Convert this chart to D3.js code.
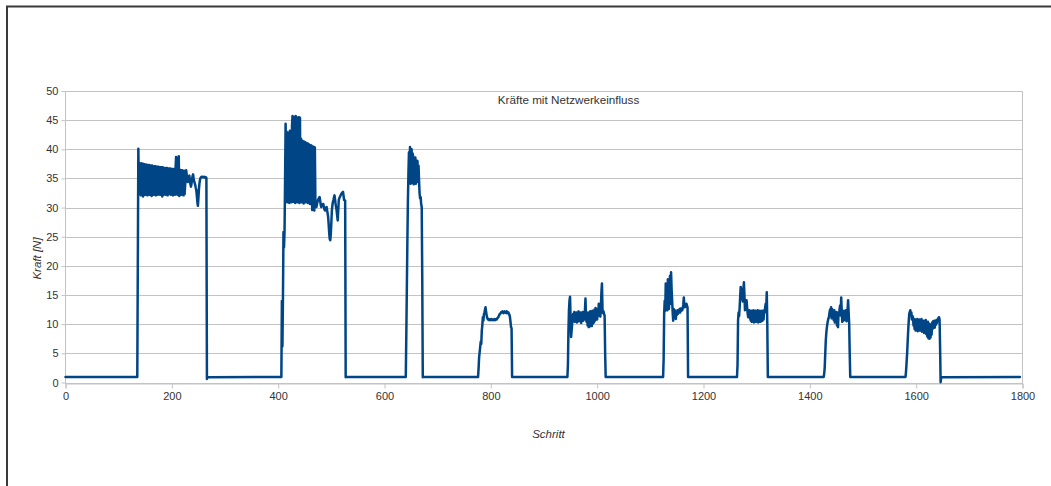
<!DOCTYPE html>
<html>
<head>
<meta charset="utf-8">
<script src="https://cdn.jsdelivr.net/npm/d3@7"></script>
<style>
  html, body { margin: 0; padding: 0; background: #fff; }
  svg { display: block; font-family: "Liberation Sans", Arial, sans-serif; }
</style>
</head>
<body>
<svg id="chart" width="1051" height="486"></svg>
<script>
// Force per simulation step. Between the loading phases the force rests at a low level.
const restLevel = 0.95;
const firstStep = 0;
const lastStep = 1795;

// First step of each loading phase; the arrays below hold one value per step.
const pulseStarts = [133, 406, 640, 776, 944, 1124, 1263, 1426, 1580];

const pulse1 = [
  0.95, 0.95, 0.95, 20.0, 40.1, 33.5,
  37.6, 32.3, 37.5, 32.1, 37.6, 32.4, 37.4, 31.9, 37.5, 32.3,
  37.4, 32.2, 37.4, 32.5, 37.3, 32.1, 37.3, 32.3, 37.3, 32.2,
  37.2, 32.4, 37.2, 32.0, 37.2, 32.3, 37.1, 32.2, 37.1, 32.4,
  37.1, 32.1, 37.0, 32.3, 37.0, 32.2, 37.0, 32.5, 36.9, 32.2,
  36.9, 32.3, 36.9, 31.9, 36.9, 32.2, 36.8, 32.4, 36.8, 32.2,
  36.8, 32.3, 36.8, 32.1, 36.7, 32.3, 36.7, 32.4, 36.7, 32.2,
  36.6, 32.3, 36.6, 32.1, 36.6, 32.4, 36.6, 32.2, 36.8, 38.7,
  32.3, 38.5, 32.2, 36.5, 38.8, 32.0, 36.5, 32.3, 36.4, 32.2,
  36.4, 32.4, 36.3, 32.1, 36.3, 32.3,
  33.8, 35.0, 36.4, 35.6, 34.8, 34.4, 34.9, 35.3, 35.5, 34.6,
  34.0, 33.6, 34.1, 34.9, 35.4, 35.7, 35.0, 34.5, 34.2, 33.9,
  33.4, 33.0, 32.1, 31.0, 30.3, 31.6, 33.2, 34.2, 34.8, 35.1,
  35.2, 35.3, 35.2, 35.3, 35.2, 35.2, 35.3, 35.2, 35.1, 35.2,
  35.1, 0.6, 0.9
];

const pulse2 = [
  0.95, 14.0, 6.2, 14.5, 25.8, 23.2, 26.0, 34.7,
  44.4, 31.2, 43.0, 30.9, 42.9, 31.4, 42.1, 30.8, 43.2, 31.1,
  42.6, 30.9, 44.0, 45.7, 31.0, 45.6, 31.3, 43.0, 30.8, 45.7,
  31.2, 45.5, 30.9, 42.4, 31.1, 45.5, 30.8, 45.4, 31.2, 41.8,
  30.9, 41.5, 31.1, 41.4, 30.7, 41.3, 31.2, 41.2, 30.9, 41.1,
  31.0, 41.0, 30.8, 40.9, 31.1, 40.8, 30.6, 40.7, 30.9, 40.6,
  29.6, 40.5, 30.2, 40.4, 29.5, 40.3,
  31.0, 30.4, 30.1, 30.6, 31.0, 31.3, 31.5, 31.7, 31.8, 31.2,
  30.5, 30.1, 30.3, 30.5, 30.6, 30.6, 30.1, 29.7, 29.5, 29.8,
  30.0, 30.1, 29.6, 29.0, 28.4, 27.1, 25.6, 24.6, 24.4, 25.5,
  27.4, 29.5, 30.4, 31.0, 31.3, 31.8, 32.1, 31.4, 30.6, 30.0,
  29.5, 28.6, 27.8, 29.5, 31.3, 31.6, 31.8, 32.0, 32.2, 32.4,
  32.5, 32.6, 32.7, 32.0, 31.3, 31.3, 31.2, 0.9, 0.95
];

const pulse3 = [
  0.95, 8.0, 16.0, 24.0, 31.0, 35.8, 39.5, 34.3, 40.4, 34.1,
  38.6, 40.0, 34.2, 39.3, 38.7, 34.0, 38.5, 34.3, 38.6, 34.1,
  38.1, 34.4, 38.0, 35.2, 37.2, 34.6, 32.4, 31.6, 31.8, 30.6,
  30.1, 18.0, 0.9, 0.95
];

const pulse4 = [
  0.95, 2.5, 4.4, 5.2, 6.1, 7.0, 6.6, 8.9, 9.8, 11.2,
  10.6, 11.7, 12.0, 12.5, 12.9, 12.2, 11.6, 11.1, 10.9, 10.8,
  10.9, 10.7, 10.8, 10.8, 10.7, 10.9, 10.8, 10.7, 10.8, 10.7,
  10.8, 10.9, 10.7, 10.8, 10.9, 10.8, 11.0, 11.1, 11.2, 11.4,
  11.6, 11.8, 11.8, 12.0, 12.1, 12.0, 12.2, 12.1, 11.9, 12.1,
  12.2, 12.0, 12.1, 11.9, 12.2, 12.1, 11.9, 12.0, 11.8, 11.6,
  11.2, 10.4, 9.5, 9.3, 0.95, 0.95
];

const pulse5 = [
  0.95, 3.0, 9.0, 12.5, 14.1, 14.7, 11.0, 7.8, 9.0, 10.1,
  11.3, 11.8, 10.6, 12.1, 10.4, 11.9, 10.8, 12.0, 10.3, 11.7,
  11.1, 12.2, 10.5, 11.8, 10.9, 12.0, 10.2, 11.9, 11.0, 12.1,
  10.6, 11.8, 10.8, 12.4, 14.4, 11.2, 10.4, 11.9, 9.8, 12.0,
  9.5, 11.7, 9.6, 12.2, 9.9, 11.8, 9.7, 12.3, 10.1, 11.9,
  10.3, 12.5, 10.6, 12.8, 11.0, 12.4, 10.8, 12.6, 11.4, 13.5,
  11.7, 12.2, 11.3, 13.0, 15.5, 17.0, 12.6, 11.9, 12.2, 11.7,
  11.5, 5.0, 0.95
];

const pulse6 = [
  0.95, 4.0, 11.8, 14.0, 12.3, 17.0, 13.0, 15.5, 12.4, 17.7,
  13.8, 12.6, 15.0, 18.3, 13.5, 18.9, 16.0, 14.1, 12.0, 10.6,
  12.6, 11.2, 12.4, 11.5, 10.9, 12.1, 11.6, 12.4, 11.8, 12.3,
  12.1, 12.6, 12.0, 12.7, 12.3, 12.5, 12.4, 12.8, 13.4, 14.6,
  13.2, 12.9, 13.3, 13.1, 13.5, 13.2, 12.8, 0.95
];

const pulse7 = [
  0.95, 3.0, 10.6, 12.0, 11.4, 12.9, 14.8, 16.4, 15.6, 14.3,
  15.3, 13.9, 16.0, 17.2, 15.0, 12.4, 13.3, 12.6, 14.1, 12.9,
  11.9, 11.2, 11.8, 12.4, 11.5, 10.9, 10.6, 12.3, 10.4, 12.2,
  10.5, 12.4, 10.3, 12.1, 10.6, 12.3, 10.4, 12.2, 10.5, 12.4,
  10.3, 12.2, 10.6, 12.3, 10.4, 12.1, 10.5, 12.3, 10.6, 12.2,
  10.8, 12.4, 12.0, 12.9, 13.5, 12.6, 15.5, 10.0, 0.95
];

const pulse8 = [
  0.95, 1.5, 2.6, 5.0, 7.2, 8.5, 9.4, 10.1, 10.6, 11.0,
  11.2, 12.0, 12.5, 11.8, 12.9, 11.0, 12.6, 11.5, 12.2, 10.7,
  12.4, 10.3, 11.9, 10.5, 12.1, 9.8, 11.6, 9.5, 12.0, 11.8,
  12.6, 13.2, 11.5, 14.6, 12.3, 10.4, 12.1, 10.6, 12.3, 10.7,
  12.0, 11.2, 12.4, 10.5, 11.0, 12.5, 14.1, 12.0, 10.1, 5.0,
  0.95
];

const pulse9 = [
  0.95, 2.0, 3.5, 5.0, 7.0, 8.9, 10.5, 11.8, 12.1, 12.4,
  11.5, 12.0, 10.8, 11.4, 11.2, 9.8, 10.9, 9.2, 10.8, 8.9,
  10.7, 9.4, 10.9, 8.8, 10.6, 9.1, 10.8, 8.9, 10.5, 9.3,
  10.9, 8.7, 10.4, 8.9, 10.6, 8.5, 10.3, 8.8, 10.7, 8.3,
  10.2, 7.9, 10.4, 7.6, 10.1, 7.5, 9.8, 7.7, 10.0, 8.2,
  10.3, 9.2, 10.5, 9.6, 10.6, 9.4, 10.4, 9.9, 10.7, 10.2,
  10.8, 10.9, 11.1, 11.2, 10.8, 6.0, 0.05, 0.9
];

const pulses = [pulse1, pulse2, pulse3, pulse4, pulse5, pulse6, pulse7, pulse8, pulse9];

const xTicks = [0, 200, 400, 600, 800, 1000, 1200, 1400, 1600, 1800];
const yTicks = [0, 5, 10, 15, 20, 25, 30, 35, 40, 45, 50];

const titleText = "Kräfte mit Netzwerkeinfluss";
const xTitle = "Schritt";
const yTitle = "Kraft [N]";

// Assemble the step/force series: rest level at both ends, phases in between.
const series = [[firstStep, restLevel]];
pulses.forEach((vals, i) => {
  vals.forEach((v, k) => series.push([pulseStarts[i] + k, v]));
});
series.push([lastStep, restLevel]);

const svg = d3.select("#chart");
const plot = { left: 65.5, right: 1022.5, top: 91, bottom: 382.5 };

const x = d3.scaleLinear().domain([0, 1800]).range([plot.left, plot.right]);
const y = d3.scaleLinear().domain([0, 50]).range([plot.bottom, plot.top]);

const gridColor = "#c3c3c3";
const textColor = "#333333";

// Page frame
svg.append("path")
  .attr("d", "M7,490 V6.5 H1060")
  .attr("fill", "none")
  .attr("stroke", "#3a3a3a")
  .attr("stroke-width", 2);

// Horizontal grid lines
svg.append("g")
  .selectAll("line")
  .data(yTicks)
  .join("line")
  .attr("x1", plot.left).attr("x2", plot.right)
  .attr("y1", d => Math.round(y(d)) + 0.5)
  .attr("y2", d => Math.round(y(d)) + 0.5)
  .attr("stroke", gridColor)
  .attr("stroke-width", 1);

// Plot area outline
svg.append("rect")
  .attr("x", plot.left).attr("y", Math.round(plot.top) + 0.5)
  .attr("width", plot.right - plot.left)
  .attr("height", Math.round(plot.bottom) - Math.round(plot.top))
  .attr("fill", "none")
  .attr("stroke", gridColor);

// Axes
const yAxis = d3.axisLeft(y).tickValues(yTicks).tickSize(4).tickPadding(3).tickFormat(d3.format("d"));
const xAxis = d3.axisBottom(x).tickValues(xTicks).tickSize(5).tickPadding(4).tickFormat(d3.format("d"));

const gy = svg.append("g")
  .attr("transform", `translate(${plot.left},0)`)
  .call(yAxis);
const gx = svg.append("g")
  .attr("transform", `translate(0,${Math.round(plot.bottom) + 0.5})`)
  .call(xAxis);

[gx, gy].forEach(g => {
  g.select(".domain").attr("stroke", gridColor);
  g.selectAll(".tick line").attr("stroke", gridColor);
  g.selectAll(".tick text")
    .attr("fill", textColor)
    .style("font-family", "'Liberation Sans', Arial, sans-serif")
    .style("font-size", "11px");
});
gy.select(".domain").remove();

// Series line
const line = d3.line()
  .x(d => x(d[0]))
  .y(d => y(d[1]));

svg.append("path")
  .datum(series)
  .attr("d", line)
  .attr("fill", "none")
  .attr("stroke", "#004586")
  .attr("stroke-width", 2.5)
  .attr("stroke-linejoin", "round")
  .attr("stroke-linecap", "round");

// Titles
svg.append("text")
  .attr("x", 568.5).attr("y", 104)
  .attr("text-anchor", "middle")
  .attr("fill", textColor)
  .style("font-size", "11.7px")
  .text(titleText);

svg.append("text")
  .attr("x", 548.5).attr("y", 438)
  .attr("text-anchor", "middle")
  .attr("fill", textColor)
  .style("font-size", "11.5px")
  .style("font-style", "italic")
  .text(xTitle);

svg.append("text")
  .attr("transform", "translate(41,258.5) rotate(-90)")
  .attr("text-anchor", "middle")
  .attr("fill", textColor)
  .style("font-size", "11.5px")
  .style("font-style", "italic")
  .text(yTitle);
</script>
</body>
</html>
